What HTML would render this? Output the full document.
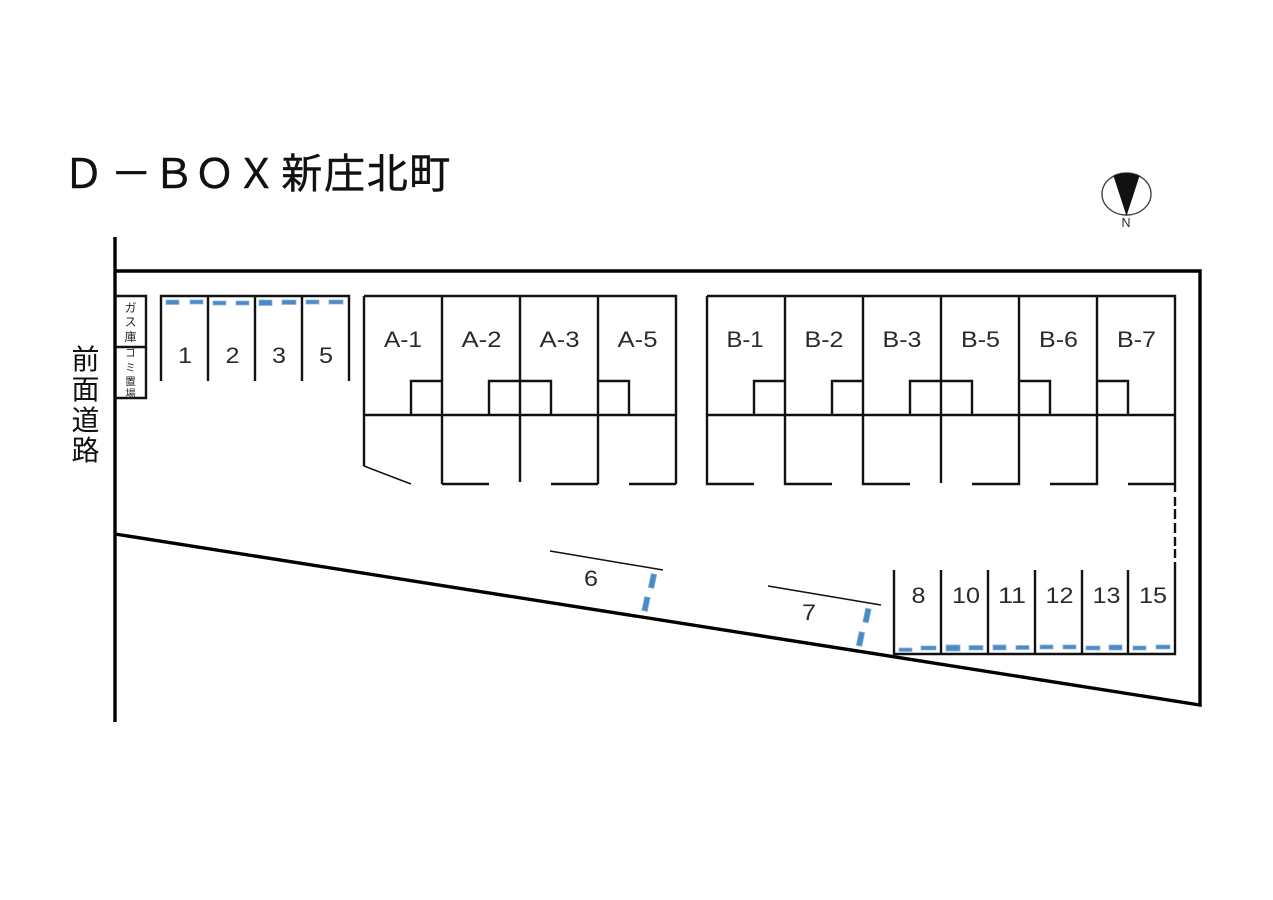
<!DOCTYPE html>
<html lang="ja"><head><meta charset="utf-8"><title>D-BOX新庄北町</title>
<style>html,body{margin:0;padding:0;background:#fff}svg{display:block}
text{font-family:"Liberation Sans","Noto Sans CJK JP",sans-serif;fill:#2a2a2a}
.j{font-family:"Noto Sans CJK JP","Liberation Sans",sans-serif}
.l{font-size:22px;text-anchor:middle}
</style></head><body>
<svg width="1273" height="900" viewBox="0 0 1273 900" xmlns="http://www.w3.org/2000/svg">
<rect width="1273" height="900" fill="#fff"/>
<text class="j" y="188" font-size="41" x="63 110.700 153.300 194 235.700 281.300 324 366.700 409.300" style="fill:#111;stroke:#111;stroke-width:.4">Ｄ－ＢＯＸ新庄北町</text>

<ellipse cx="1126.500" cy="194" rx="24.500" ry="21" fill="none" stroke="#444" stroke-width="1.400"/>
<path d="M1113.500 176Q1126 170 1139.500 176L1126.500 216Z" fill="#111"/>
<text x="1126" y="227" font-size="12.500" text-anchor="middle">N</text>

<g fill="none" stroke="#000" stroke-width="3.400">
<path d="M115 237V722"/>
<path d="M115 271H1200V705L115 534"/>
</g>
<g fill="none" stroke="#111" stroke-width="2.400">
<path d="M115 296H146V398H115M115 347H146"/>
<path d="M161 381V296H349V381M208 296V381M255 296V381M302 296V381"/>
<path d="M364 296H676V484M364 296V466M442 296V484M520 296V482M598 296V484M364 415H676"/>
<path d="M411 415V381H442M489 415V381H551V415M598 381H629V415"/>
<path d="M442 484H489M551 484H598M629 484H676"/>
<path d="M707 296H1175V492M707 296V484H754M785 296V484H832M863 296V484H910M941 296V483M1019 296V484H972M1097 296V484H1050M1175 484H1128M707 415H1175"/>
<path d="M754 415V381H785M832 415V381H863M910 415V381H972V415M1019 381H1050V415M1097 381H1128V415"/>
<path d="M894 570V654H1175V562M941 570V654M988 570V654M1035 570V654M1082 570V654M1128 570V654"/>
<path d="M1175 497V506M1175 509V519M1175 523V533M1175 537V546M1175 549V558"/>
</g>
<path d="M364 466L411 484" fill="none" stroke="#111" stroke-width="1.500"/>
<path d="M550 551L663 570M768 586L881 605" fill="none" stroke="#111" stroke-width="1.500"/>

<g fill="#4a8ac8" stroke="#8db4d8" stroke-width=".8">
<rect x="166" y="300" width="13" height="4.500"/><rect x="190" y="300" width="13" height="4"/>
<rect x="213" y="301" width="13" height="4"/><rect x="236" y="301" width="13" height="4"/>
<rect x="259" y="300" width="13" height="5.500"/><rect x="282" y="300" width="14" height="4.500"/>
<rect x="306" y="300" width="13" height="4"/><rect x="329" y="300" width="14" height="4"/>
<rect x="899" y="648" width="13" height="3.500"/><rect x="921" y="646" width="15" height="4"/>
<rect x="946" y="645" width="14" height="6"/><rect x="969" y="645.500" width="14" height="4.500"/>
<rect x="993" y="645" width="13" height="5"/><rect x="1016" y="645.500" width="13" height="4"/>
<rect x="1040" y="645" width="13" height="4"/><rect x="1063" y="645" width="13" height="4"/>
<rect x="1086" y="646" width="14" height="4"/><rect x="1109" y="645" width="13" height="5"/>
<rect x="1133" y="646" width="13" height="4"/><rect x="1156" y="645" width="14" height="4"/>
<rect x="-2.800" y="-7" width="5.600" height="14" transform="translate(652.500 581) rotate(12)"/>
<rect x="-2.800" y="-7" width="5.600" height="14" transform="translate(646 604) rotate(12)"/>
<rect x="-2.800" y="-7" width="5.600" height="14" transform="translate(867 615.500) rotate(12)"/>
<rect x="-2.800" y="-7" width="5.600" height="14" transform="translate(860.500 639) rotate(12)"/>
</g>

<g>
<text class="l" x="403" y="347" textLength="38" lengthAdjust="spacingAndGlyphs">A-1</text>
<text class="l" x="481.500" y="347" textLength="40" lengthAdjust="spacingAndGlyphs">A-2</text>
<text class="l" x="559.500" y="347" textLength="40" lengthAdjust="spacingAndGlyphs">A-3</text>
<text class="l" x="637.500" y="347" textLength="40" lengthAdjust="spacingAndGlyphs">A-5</text>
<text class="l" x="745" y="347" textLength="37" lengthAdjust="spacingAndGlyphs">B-1</text>
<text class="l" x="824" y="347" textLength="39" lengthAdjust="spacingAndGlyphs">B-2</text>
<text class="l" x="902" y="347" textLength="39" lengthAdjust="spacingAndGlyphs">B-3</text>
<text class="l" x="980.500" y="347" textLength="39" lengthAdjust="spacingAndGlyphs">B-5</text>
<text class="l" x="1058.500" y="347" textLength="39" lengthAdjust="spacingAndGlyphs">B-6</text>
<text class="l" x="1136.500" y="347" textLength="39" lengthAdjust="spacingAndGlyphs">B-7</text>
<text class="l" x="185" y="363" textLength="14" lengthAdjust="spacingAndGlyphs">1</text>
<text class="l" x="232.500" y="363" textLength="14" lengthAdjust="spacingAndGlyphs">2</text>
<text class="l" x="279" y="363" textLength="14" lengthAdjust="spacingAndGlyphs">3</text>
<text class="l" x="326" y="363" textLength="14" lengthAdjust="spacingAndGlyphs">5</text>
<text class="l" x="591" y="586" textLength="14" lengthAdjust="spacingAndGlyphs">6</text>
<text class="l" x="809" y="620" textLength="14" lengthAdjust="spacingAndGlyphs">7</text>
<text class="l" x="918.500" y="603" textLength="14" lengthAdjust="spacingAndGlyphs">8</text>
<text class="l" x="966" y="603" textLength="28" lengthAdjust="spacingAndGlyphs">10</text>
<text class="l" x="1012" y="603" textLength="28" lengthAdjust="spacingAndGlyphs">11</text>
<text class="l" x="1059.500" y="603" textLength="28" lengthAdjust="spacingAndGlyphs">12</text>
<text class="l" x="1106.500" y="603" textLength="28" lengthAdjust="spacingAndGlyphs">13</text>
<text class="l" x="1153" y="603" textLength="28" lengthAdjust="spacingAndGlyphs">15</text>
</g>

<g text-anchor="middle" font-size="12">
<text class="j" x="130.500" y="312">ガ</text><text class="j" x="130.500" y="326">ス</text><text class="j" x="130.500" y="341">庫</text>
</g>
<g text-anchor="middle" font-size="10.500">
<text class="j" x="130.500" y="356">ゴ</text><text class="j" x="130.500" y="371">ミ</text><text class="j" x="130.500" y="385">置</text><text class="j" x="130.500" y="397">場</text>
</g>
<g text-anchor="middle" font-size="28">
<text class="j" x="85.500" y="369" style="fill:#111">前</text><text class="j" x="85.500" y="399" style="fill:#111">面</text><text class="j" x="85.500" y="430" style="fill:#111">道</text><text class="j" x="85.500" y="460" style="fill:#111">路</text>
</g>
</svg>
</body></html>
